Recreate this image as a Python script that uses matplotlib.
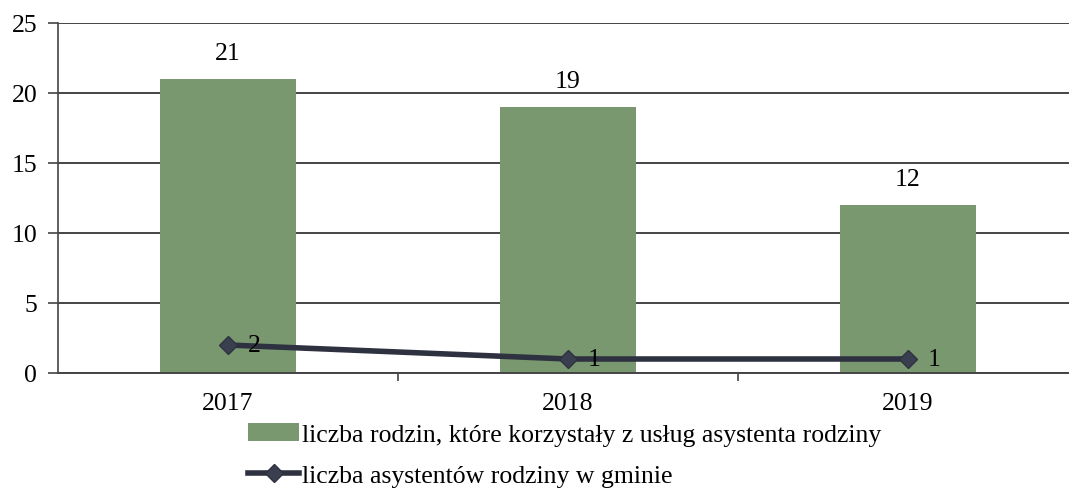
import matplotlib
matplotlib.use("Agg")
import matplotlib.pyplot as plt
import numpy as np

# Data
years = ["2017", "2018", "2019"]
families = [21, 19, 12]
assistants = [2, 1, 1]
bar_label = "liczba rodzin, które korzystały z usług asystenta rodziny"
line_label = "liczba asystentów rodziny w gminie"

plt.rcParams['font.family'] = ['Liberation Serif', 'DejaVu Serif']
plt.rcParams['font.size'] = 18.5

fig = plt.figure(figsize=(10.69, 4.89), dpi=100)
ax = fig.add_axes([58 / 1069, 115 / 489, 1020 / 1069, 350 / 489])

x = np.arange(len(years))
bars = ax.bar(x, families, width=0.4, color="#7a9870", zorder=2, label=bar_label)
line, = ax.plot(x, assistants, color="#2e3240", lw=4, marker="D", markersize=9,
                markerfacecolor="#3a3f4f", zorder=3, label=line_label)

for xi, v in zip(x, families):
    ax.annotate(str(v), (xi, v), xytext=(0, 11), textcoords="offset points",
                ha="center", va="bottom")
for xi, v in zip(x, assistants):
    ax.annotate(str(v), (xi, v), xytext=(14, 0), textcoords="offset points",
                ha="left", va="center")

ax.set_xlim(-0.5, 2.5)
ax.set_ylim(0, 25)
ax.set_yticks(range(0, 26, 5))
ax.grid(True, axis='y', color="#444444", lw=1.4, zorder=1)
ax.set_axisbelow(True)

# category labels centred, tick marks on the boundaries
ax.set_xticks(x)
ax.set_xticklabels(years)
ax.tick_params(axis='x', length=0, pad=14)
ax.set_xticks([0.5, 1.5], minor=True)
ax.tick_params(axis='x', which='minor', length=6, width=1.2, color="#444444")
ax.tick_params(axis='y', length=7, width=1.2, color="#444444", pad=8)

for s in ['top', 'right']:
    ax.spines[s].set_visible(False)
ax.spines['left'].set_color("#444444")
ax.spines['bottom'].set_color("#444444")
ax.spines['left'].set_linewidth(1.2)
ax.spines['bottom'].set_linewidth(1.4)

fig.legend(handles=[bars, line], loc='upper left', bbox_to_anchor=(248 / 1069, 1 - 424 / 489),
           frameon=False, handlelength=2.0, handletextpad=0.1, labelspacing=0.72,
           borderaxespad=0, borderpad=0)

fig.savefig("out.png", dpi=100)
